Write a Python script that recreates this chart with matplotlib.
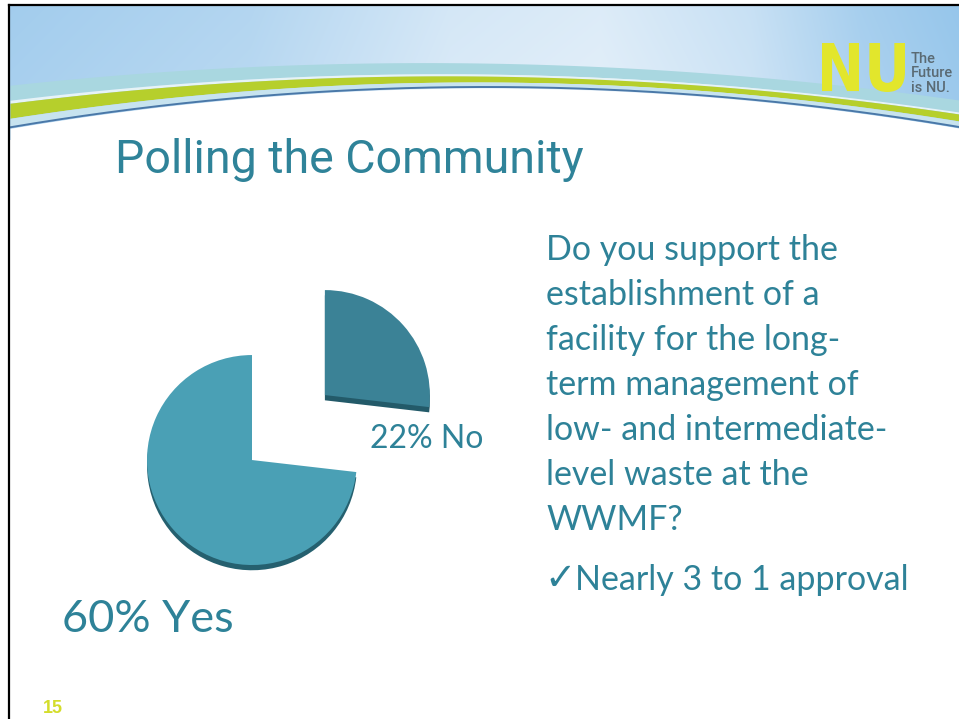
import numpy as np
import matplotlib
matplotlib.use("Agg")
import matplotlib.pyplot as plt
from matplotlib.patches import PathPatch
from matplotlib.textpath import TextPath
from matplotlib.font_manager import FontProperties
from matplotlib.transforms import Affine2D

# poll results
categories = ["No", "Yes"]
percent = [22, 60]
slice_colors = ["#3b8296", "#4aa0b5"]
shadow_colors = ["#235a69", "#25606f"]

title = "Polling the Community"
question = ["Do you support the",
            "establishment of a",
            "facility for the long-",
            "term management of",
            "low- and intermediate-",
            "level waste at the",
            "WWMF?"]
takeaway = "Nearly 3 to 1 approval"
page_no = "15"

W, H = 959, 719
teal = "#2e8298"

fig = plt.figure(figsize=(W / 100, H / 100), dpi=100)
bg = fig.add_axes([0, 0, 1, 1])
bg.set_xlim(0, W)
bg.set_ylim(H, 0)
bg.axis("off")

# --- header: sky + swoosh ---
xx = np.linspace(10, W, 500)


def curve(pts):
    xs, ys = zip(*pts)
    return np.polyval(np.polyfit(xs, ys, 2), xx)


gx = np.arange(10, W)
gy = np.arange(5, 140)
mix = np.interp(gx, [10, 250, 450, 600, 750, 860, 959],
                [0.15, 0.35, 0.75, 0.85, 0.6, 0.2, 0.0])
base = np.array([150, 198, 235]) / 255.0
white = np.array([242, 247, 252]) / 255.0
row = base[None, :] * (1 - mix[:, None]) + white[None, :] * mix[:, None]
sky = np.repeat(row[None, :, :], len(gy), axis=0)
t = np.linspace(0, 1, len(gy))[:, None, None]
sky = sky * 0.9 + white * 0.1 * t + base * 0.1 * (1 - t)
bg.imshow(np.clip(sky, 0, 1), extent=(10, W, 140, 5), aspect="auto", zorder=0)

cyan_top = curve([(12, 85), (480, 63), (959, 100)])
cyan_bot = curve([(12, 100), (480, 74), (959, 112)])
green_top = curve([(12, 103), (480, 76), (959, 114)])
green_bot = curve([(12, 118), (480, 82), (959, 121)])
dark = curve([(12, 127), (480, 87), (959, 127)])

bg.fill_between(xx, cyan_top, cyan_bot, color="#a9d7e0", lw=0, zorder=1)
bg.fill_between(xx, cyan_bot, green_top, color="#e6f3f6", lw=0, zorder=1)
bg.fill_between(xx, green_top, green_bot, color="#b6cf2c", lw=0, zorder=1)
bg.fill_between(xx, green_bot, dark, color="#c7e3ef", lw=0, zorder=1)
bg.plot(xx, dark, color="#4a78a8", lw=1.4, zorder=2)
bg.fill_between(xx, dark + 1, H, color="white", lw=0, zorder=1)

# slide border
bg.plot([9, 9], [5, H], color="black", lw=1.6, zorder=3)
bg.plot([9, W], [5, 5], color="black", lw=1.6, zorder=3)

# logo
tp = TextPath((0, 0), "NU", prop=FontProperties(family="DejaVu Sans", weight="bold"), size=1)
ext = tp.get_extents()
tr = Affine2D().translate(-ext.x0, -ext.y0).scale((905 - 822) / ext.width, -(92 - 43) / ext.height).translate(822, 92)
bg.add_patch(PathPatch(tr.transform_path(tp), facecolor="#e2e62c", edgecolor="none", zorder=3))
for txt, yb in zip(["The", "Future", "is NU."], [63, 77, 92]):
    bg.text(911, yb, txt, family="Roboto", fontsize=10.5, weight="medium", color="#5a6a73", va="baseline", zorder=3)

# --- texts ---
bg.text(115, 173, title, family="Roboto", fontsize=33.5, color="#2f8399", va="baseline")
for i, line in enumerate(question):
    bg.text(546, 260 + 45 * i, line, family="Lato", fontsize=24.5, color=teal, va="baseline")
bg.text(544, 590, "\u2713", family="DejaVu Sans", fontsize=27, color=teal, va="baseline")
bg.text(575, 590, takeaway, family="Lato", fontsize=24.5, color=teal, va="baseline")
bg.text(43, 713, page_no, family="Liberation Sans", weight="bold", fontsize=13, color="#d4dd2b", va="baseline")

labels = ["%d%% %s" % (p, c) for p, c in zip(percent, categories)]
bg.text(370, 448, labels[0], family="Lato", fontsize=23, color=teal, va="baseline")
bg.text(62, 632, labels[1], family="Lato", fontsize=32.5, color=teal, va="baseline")

# --- pie ---
pax = fig.add_axes([130 / W, (H - 590) / H, 360 / W, 320 / H])
expl = [0.93, 0]
pax.pie(percent, explode=expl, startangle=90, counterclock=False,
        colors=shadow_colors, center=(0, -0.05), radius=1)
pax.pie(percent, explode=expl, startangle=90, counterclock=False,
        colors=slice_colors, radius=1)
pax.set_aspect("auto")
pax.set_xlim(-1.162, 2.267)
pax.set_ylim(-1.238, 1.810)
pax.axis("off")

fig.savefig("out.png", dpi=100)
